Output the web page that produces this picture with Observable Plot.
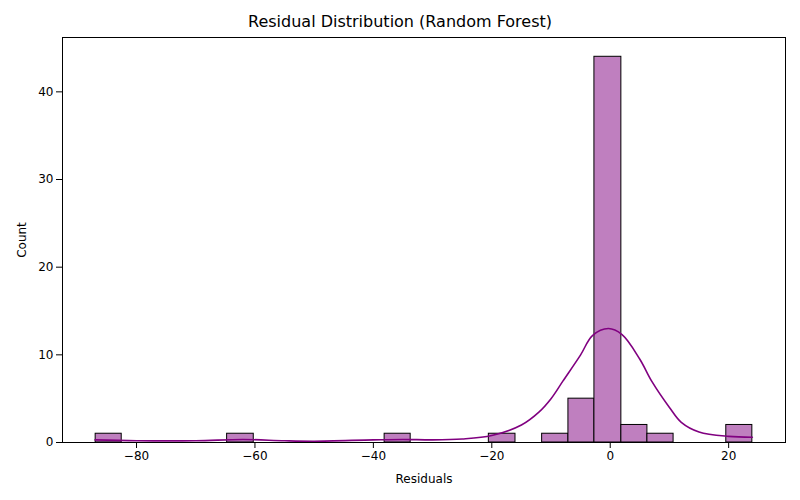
<!DOCTYPE html>
<html>
<head>
<script src="https://cdn.jsdelivr.net/npm/d3@7"></script>
<script src="https://cdn.jsdelivr.net/npm/@observablehq/plot@0.6"></script>
<style>
  body { margin: 0; background: #fff; font-family: "DejaVu Sans", sans-serif; }
  #title { height: 32px; line-height: 44px; text-align: center; font-size: 16px; width: 800px; }
</style>
</head>
<body>
<div id="title">Residual Distribution (Random Forest)</div>
<div id="chart"></div>
<script>
// histogram bins (left edge, right edge, count)
const binLeft  = [-86.9, -64.7, -38.1, -20.5, -11.5, -7.06, -2.67, 1.88, 6.28, 19.6];
const binRight = [-82.5, -60.2, -33.7, -16.0, -7.06, -2.67, 1.88, 6.28, 10.7, 24.0];
const counts   = [1, 1, 1, 1, 1, 5, 44, 2, 1, 2];

// KDE curve points
const kdeX = [-87, -80, -70, -62, -55, -50, -40, -35, -30, -25, -20, -15, -12, -10, -8, -5, -3, -0.3, 2, 5, 7, 10, 12, 15, 20, 24];
const kdeY = [0.3, 0.2, 0.2, 0.35, 0.2, 0.15, 0.3, 0.35, 0.3, 0.4, 0.8, 2, 3.5, 5, 7, 10, 12.2, 13, 12.3, 9.5, 7, 4, 2.3, 1.2, 0.7, 0.6];

const bins = counts.map((c, i) => ({x1: binLeft[i], x2: binRight[i], y: c}));
const kde = kdeX.map((x, i) => ({x, y: kdeY[i]}));

function draw() {
  const plot = Plot.plot({
    width: 800,
    height: 468,
    marginLeft: 62,
    marginRight: 15,
    marginTop: 5,
    marginBottom: 58,
    style: {fontSize: "12px", fontFamily: "DejaVu Sans, sans-serif", color: "#000"},
    x: {domain: [-92.5, 29.6], ticks: [-80, -60, -40, -20, 0, 20], tickFormat: d => d < 0 ? "\u2212" + Math.abs(d) : d,
        label: "Residuals", labelAnchor: "center", labelArrow: "none", labelOffset: 40},
    y: {domain: [0, 46.2], ticks: [0, 10, 20, 30, 40], label: "Count", labelAnchor: "center", labelArrow: "none", labelOffset: 45},
    marks: [
      Plot.rectY(bins, {x1: "x1", x2: "x2", y: "y", fill: "#bf7fbf", stroke: "#000", strokeWidth: 1}),
      Plot.line(kde, {x: "x", y: "y", stroke: "purple", strokeWidth: 1.6, curve: "catmull-rom"}),
      Plot.frame({stroke: "#000"})
    ]
  });
  document.querySelector("#chart").append(plot);
}
draw();
</script>
</body>
</html>
